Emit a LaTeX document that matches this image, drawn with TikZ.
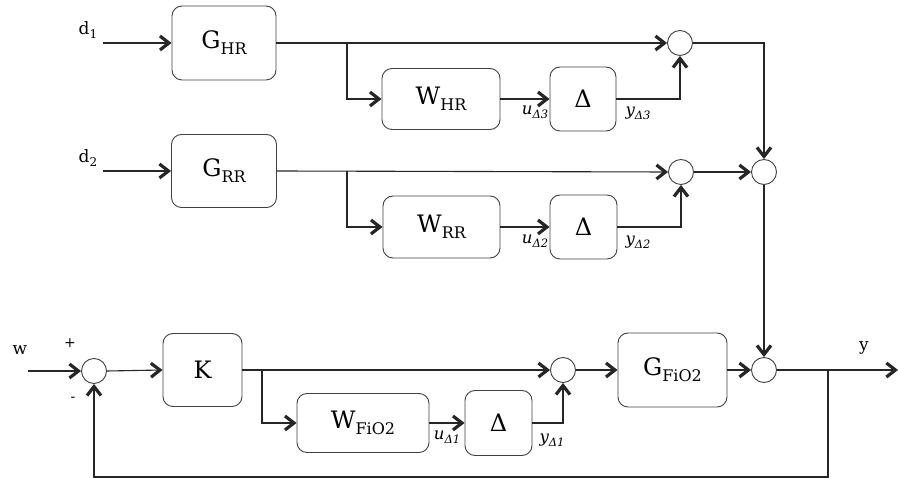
\documentclass[tikz,border=0pt]{standalone}
\usepackage{fontspec}
\setmainfont{DejaVu Serif}
\usetikzlibrary{arrows.meta}
\newcommand\bsub[1]{\raisebox{-6pt}{\fontsize{16}{16}\selectfont #1}}
\newcommand\ssub[1]{\raisebox{-4pt}{\fontsize{11.5}{12}\selectfont\itshape #1}}
\newcommand\nsub[1]{\raisebox{-4pt}{\fontsize{12}{12}\selectfont #1}}
\tikzset{
  blk/.style={draw=black!75, line width=0.9pt, rounded corners=10pt, inner sep=0pt, font=\fontsize{24}{26}\selectfont},
  sumc/.style={draw=black!75, line width=0.9pt, circle, minimum size=25pt, inner sep=0pt},
  ln/.style={draw=black!85, line width=1.1pt},
  arr/.style={ln, -{Straight Barb[length=9pt, width=14pt, line width=3.2pt]}},
  lbl/.style={font=\fontsize{17}{19}\selectfont, inner sep=0pt},
  sig/.style={font=\fontsize{16.5}{18}\selectfont\itshape, inner sep=0pt}
}
\begin{document}
\begin{tikzpicture}[x=1pt, y=-1pt]
\useasboundingbox (0,0) rectangle (898,478);
% top row
\node[blk, minimum width=104pt, minimum height=74pt] (ghr) at (224,43) {G\bsub{HR}};
\node[blk, minimum width=118pt, minimum height=61pt] (whr) at (441,99) {W\bsub{HR}};
\node[blk, minimum width=66pt, minimum height=64pt] (dl3) at (583,99) {Δ};
\node[sumc] (s3) at (680,43) {};
% middle row
\node[blk, minimum width=105pt, minimum height=73pt] (grr) at (224,171) {G\bsub{RR}};
\node[blk, minimum width=117pt, minimum height=62pt] (wrr) at (441.5,227) {W\bsub{RR}};
\node[blk, minimum width=67pt, minimum height=64pt] (dl2) at (583.5,227) {Δ};
\node[sumc] (s2) at (681,172) {};
\node[sumc] (sr) at (764,172) {};
% bottom row
\node[sumc] (sw) at (94,371) {};
\node[blk, minimum width=79pt, minimum height=73pt] (k) at (202.5,370) {K};
\node[blk, minimum width=132pt, minimum height=59pt] (wf) at (363,423) {W\bsub{FiO2}};
\node[blk, minimum width=67pt, minimum height=65pt] (dl1) at (498.5,423) {Δ};
\node[sumc] (s1) at (563,370) {};
\node[blk, minimum width=109pt, minimum height=74pt] (gf) at (672.5,370) {G\bsub{FiO2}};
\node[sumc] (so) at (764,370) {};
% free ends
\coordinate (in1) at (103,43);
\coordinate (in2) at (103,171);
\coordinate (inw) at (28,371);
\coordinate (out) at (898,370);
\coordinate (b1) at (347,43);
\coordinate (b2) at (347,171);
\coordinate (bk) at (262,370);
\coordinate (fb) at (828,370);
\coordinate (fbl) at (828,477);
% labels
\node[lbl] (ld1) at (88,30) {d\nsub{1}};
\node[lbl] (ld2) at (88,158) {d\nsub{2}};
\node[lbl] (lw) at (20,350) {w};
\node[lbl] (ly) at (864,348) {y};
\node[lbl, font=\fontsize{14}{16}\selectfont] (lp) at (70,343) {+};
\node[lbl, font=\fontsize{14}{16}\selectfont] (lm) at (73,399) {-};
\node[sig] (u3) at (535,112) {u\ssub{Δ3}};
\node[sig] (y3) at (638,113) {y\ssub{Δ3}};
\node[sig] (u2) at (535,241) {u\ssub{Δ2}};
\node[sig] (y2) at (638,242) {y\ssub{Δ2}};
\node[sig] (u1) at (447,437) {u\ssub{Δ1}};
\node[sig] (y1) at (552,440) {y\ssub{Δ1}};
% connectors top
\draw[arr] (in1) -- (ghr.west);
\draw[arr] (ghr.east) -- (s3.west);
\draw[arr] (b1) |- (whr.west);
\draw[arr] (whr.east) -- (dl3.west);
\draw[arr] (dl3.east) -| (s3.south);
\draw[arr] (s3.east) -| (sr.north);
% middle
\draw[arr] (in2) -- (grr.west);
\draw[arr] (grr.east) -- (s2.west);
\draw[arr] (b2) |- (wrr.west);
\draw[arr] (wrr.east) -- (dl2.west);
\draw[arr] (dl2.east) -| (s2.south);
\draw[arr] (s2.east) -- (sr.west);
\draw[arr] (sr.south) -- (so.north);
% bottom
\draw[arr] (inw) -- (sw.west);
\draw[arr] (sw.east) -- (k.west);
\draw[arr] (k.east) -- (s1.west);
\draw[arr] (bk) |- (wf.west);
\draw[arr] (wf.east) -- (dl1.west);
\draw[arr] (dl1.east) -| (s1.south);
\draw[arr] (s1.east) -- (gf.west);
\draw[arr] (gf.east) -- (so.west);
\draw[arr] (so.east) -- (out);
\draw[arr] (fb) -- (fbl) -| (sw.south);
\end{tikzpicture}
\end{document}
